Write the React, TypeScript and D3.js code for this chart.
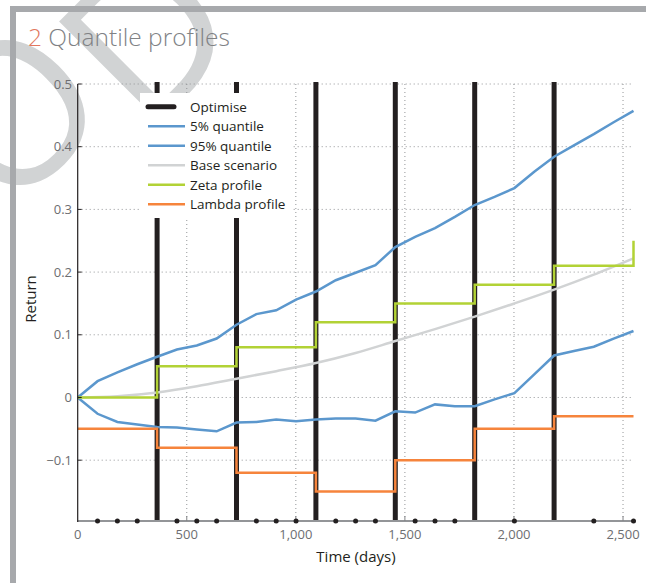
import React from 'react';
import * as d3 from 'd3';

// quarterly time grid (days) and the two quantile bands
const days = [0, 91, 182, 273, 364, 455, 546, 637, 728, 819, 910, 1001, 1092, 1183, 1274, 1365, 1456, 1547, 1638, 1729, 1820, 1911, 2002, 2093, 2184, 2275, 2366, 2457, 2548];
const q05 = [0, -0.026, -0.039, -0.043, -0.047, -0.048, -0.051, -0.054, -0.040, -0.039, -0.035, -0.038, -0.035, -0.0335, -0.0335, -0.037, -0.022, -0.024, -0.011, -0.014, -0.014, -0.003, 0.007, 0.037, 0.067, 0.074, 0.081, 0.094, 0.106];
const q95 = [0, 0.026, 0.040, 0.053, 0.065, 0.0765, 0.083, 0.094, 0.116, 0.133, 0.139, 0.156, 0.169, 0.187, 0.199, 0.211, 0.240, 0.256, 0.270, 0.288, 0.307, 0.320, 0.334, 0.360, 0.384, 0.402, 0.420, 0.439, 0.457];

// base scenario
const baseDays = [0, 182, 364, 546, 728, 910, 1092, 1274, 1456, 1638, 1820, 2002, 2184, 2366, 2548];
const base = [0, 0.002, 0.008, 0.018, 0.030, 0.042, 0.055, 0.071, 0.090, 0.109, 0.129, 0.150, 0.172, 0.196, 0.222];

// profiles, stepped at each optimisation
const stepDays = [0, 364, 728, 1092, 1456, 1820, 2184, 2548];
const zeta = [0, 0.05, 0.08, 0.12, 0.15, 0.18, 0.21, 0.25];
const lambda = [-0.05, -0.08, -0.12, -0.15, -0.10, -0.05, -0.03, -0.03];

const optimiseDays = [364, 728, 1092, 1456, 1820, 2184];
const markerDays = [91, 182, 273, 455, 546, 637, 819, 910, 1001, 1183, 1274, 1365, 1547, 1638, 1729, 2002, 2366, 2548];

const yTicks = [0.5, 0.4, 0.3, 0.2, 0.1, 0, -0.1];
const xTicks = [0, 500, 1000, 1500, 2000, 2500];

const legendItems = [
    { label: 'Optimise', color: '#231f20', w: 5 },
    { label: '5% quantile', color: '#5b97cd', w: 2.5 },
    { label: '95% quantile', color: '#5b97cd', w: 2.5 },
    { label: 'Base scenario', color: '#d1d3d4', w: 2.5 },
    { label: 'Zeta profile', color: '#b2d235', w: 2.5 },
    { label: 'Lambda profile', color: '#f6843c', w: 2.5 },
];

const font = '"Open Sans", "Noto Sans", sans-serif';

export default function App() {
    const width = 646;
    const height = 583;
    const left = 77.7, right = 633.5, top = 84, bottom = 521;

    const x = d3.scaleLinear().domain([0, 2548]).range([left, right]);
    const y = d3.scaleLinear().domain([-0.197, 0.5]).range([bottom, top]);

    const smooth = d3.line<[number, number]>()
        .x(d => x(d[0]))
        .y(d => y(d[1]));
    const curved = d3.line<[number, number]>()
        .x(d => x(d[0]))
        .y(d => y(d[1]))
        .curve(d3.curveMonotoneX);
    const stepped = d3.line<[number, number]>()
        .x(d => x(d[0]))
        .y(d => y(d[1]))
        .curve(d3.curveStepAfter);

    const pair = (xs: number[], ys: number[]) => xs.map((d, i) => [d, ys[i]] as [number, number]);
    const fmt = d3.format(',');

    return (
        <svg width={width} height={height} style={{ position: 'absolute', left: 0, top: 0, background: '#fff' }}>
            {/* watermark */}
            <text transform="translate(8,218) rotate(-45)" fontFamily={font} fontSize={200} fill="#d1d3d4">
                O<tspan dy={40}>D</tspan>
            </text>

            {/* frame */}
            <rect x={10} y={6} width={width - 10} height={6} fill="#a7a9ac" />
            <rect x={10} y={6} width={6} height={height - 6} fill="#a7a9ac" />

            <text x={28} y={46} fontFamily={font} fontSize={24.5} fontWeight={300} fill="#808285">
                <tspan fill="#e2775e">2</tspan> Quantile profiles
            </text>

            {/* grid */}
            {yTicks.map(t => (
                <line key={'gy' + t} x1={left + 4} x2={right} y1={y(t)} y2={y(t)}
                    stroke="#939598" strokeWidth={1} strokeDasharray="1 3" />
            ))}
            {xTicks.slice(1).map(t => (
                <line key={'gx' + t} x1={x(t)} x2={x(t)} y1={top} y2={bottom}
                    stroke="#939598" strokeWidth={1} strokeDasharray="1 3" />
            ))}

            {/* optimise bars */}
            {optimiseDays.map(d => (
                <line key={'o' + d} x1={x(d)} x2={x(d)} y1={top - 2} y2={bottom}
                    stroke="#231f20" strokeWidth={5} />
            ))}

            <path d={curved(pair(baseDays, base)) || ''} fill="none" stroke="#d1d3d4" strokeWidth={2.5} />
            <path d={smooth(pair(days, q05)) || ''} fill="none" stroke="#5b97cd" strokeWidth={2.5} />
            <path d={smooth(pair(days, q95)) || ''} fill="none" stroke="#5b97cd" strokeWidth={2.5} />
            <path d={stepped(pair(stepDays, zeta)) || ''} fill="none" stroke="#b2d235" strokeWidth={2.5} />
            <path d={stepped(pair(stepDays, lambda)) || ''} fill="none" stroke="#f6843c" strokeWidth={2.5} />

            {/* axes */}
            <line x1={left} x2={right} y1={bottom} y2={bottom} stroke="#939598" strokeWidth={2} />
            {xTicks.slice(1).map(t => (
                <line key={'xt' + t} x1={x(t)} x2={x(t)} y1={bottom} y2={bottom - 5} stroke="#808285" strokeWidth={1} />
            ))}
            {markerDays.map(d => (
                <circle key={'m' + d} cx={x(d)} cy={bottom} r={2.5} fill="#231f20" />
            ))}
            <line x1={left} x2={left} y1={top} y2={bottom + 1} stroke="#231f20" strokeWidth={1.2} />
            {yTicks.map(t => (
                <line key={'yt' + t} x1={left} x2={left + 4} y1={y(t)} y2={y(t)} stroke="#231f20" strokeWidth={1} />
            ))}

            {yTicks.map(t => (
                <text key={'yl' + t} x={72} y={y(t) + 4.5} textAnchor="end" fontFamily={font} fontSize={13} fill="#6d6e71">
                    {t === 0 ? '0' : d3.format('.1f')(t).replace('-', '\u2212')}
                </text>
            ))}
            {xTicks.map(t => (
                <text key={'xl' + t} x={x(t)} y={539} textAnchor="middle" fontFamily={font} fontSize={13} fill="#6d6e71">
                    {fmt(t)}
                </text>
            ))}
            <text x={356} y={562} textAnchor="middle" fontFamily={font} fontSize={15} fill="#231f20">Time (days)</text>
            <text transform="translate(36,299) rotate(-90)" textAnchor="middle" fontFamily={font} fontSize={15} fill="#231f20">Return</text>

            {/* legend */}
            <rect x={140} y={93} width={152} height={125} fill="#fff" />
            {legendItems.map((it, i) => {
                const ly = 106.7 + i * 19.5;
                return (
                    <g key={it.label}>
                        <line x1={148} x2={i === 0 ? 174 : 185} y1={ly} y2={ly} stroke={it.color}
                            strokeWidth={it.w} strokeLinecap={i === 0 ? 'round' : 'butt'} />
                        <text x={190} y={ly + 5} fontFamily={font} fontSize={13.5} fill="#231f20">{it.label}</text>
                    </g>
                );
            })}
        </svg>
    );
}
